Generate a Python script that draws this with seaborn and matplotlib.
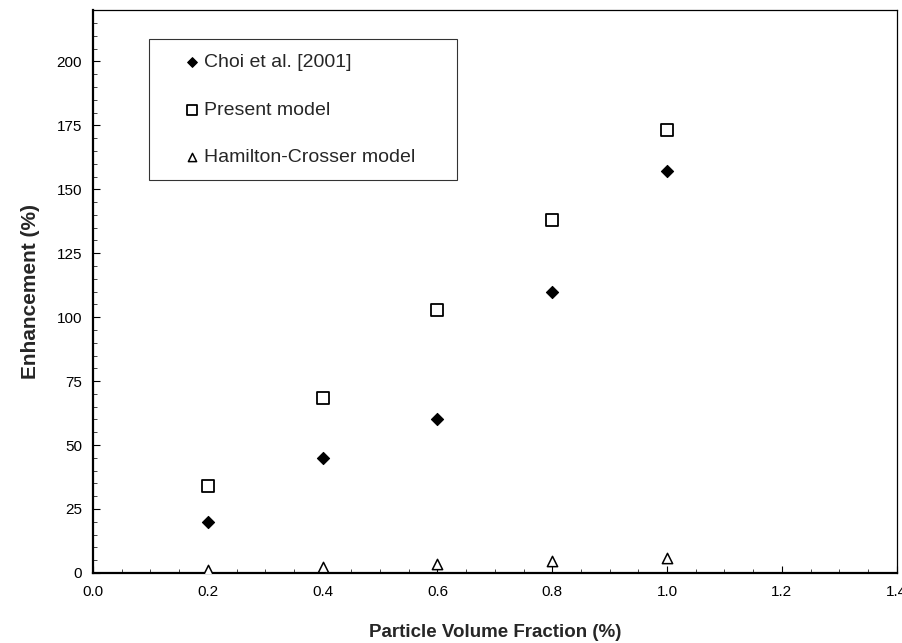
import matplotlib
matplotlib.use("Agg")
import matplotlib.pyplot as plt
import seaborn as sns
from matplotlib.ticker import MultipleLocator, FormatStrFormatter

# Data
volume_fraction = [0.2, 0.4, 0.6, 0.8, 1.0]
choi_2001 = [20, 45, 60, 110, 157]
present_model = [34, 68.5, 103, 138, 173]
hamilton_crosser = [1.2, 2.4, 3.6, 4.8, 6.0]

sns.set_style("white")
plt.rcParams['font.family'] = ['Liberation Sans', 'DejaVu Sans']

fig = plt.figure(figsize=(9.03, 6.43), dpi=100)
ax = fig.add_axes([0.103, 0.109, 0.890, 0.875])

sns.scatterplot(x=volume_fraction, y=choi_2001, marker='D', s=38, color='black',
                edgecolor='black', linewidth=0.8, label='Choi et al. [2001]', ax=ax, zorder=3)
sns.scatterplot(x=volume_fraction, y=present_model, marker='s', s=70, facecolor='white',
                edgecolor='black', linewidth=1.3, label='Present model', ax=ax, zorder=3)
sns.scatterplot(x=volume_fraction, y=hamilton_crosser, marker='^', s=55, facecolor='white',
                edgecolor='black', linewidth=1.1, label='Hamilton-Crosser model', ax=ax, zorder=3)

ax.set_xlim(0, 1.4)
ax.set_ylim(0, 220)
ax.xaxis.set_major_locator(MultipleLocator(0.2))
ax.xaxis.set_minor_locator(MultipleLocator(0.05))
ax.xaxis.set_major_formatter(FormatStrFormatter('%.1f'))
ax.yaxis.set_minor_locator(MultipleLocator(5))
ax.set_yticks([0, 25, 50, 75, 100, 125, 150, 175, 200])

ax.tick_params(axis='both', which='major', direction='in', length=5, width=0.8,
               labelsize=11, colors='black', bottom=True, left=True, top=False, right=False)
ax.tick_params(axis='both', which='minor', direction='in', length=3, width=0.6,
               bottom=True, left=True, top=False, right=False)
ax.tick_params(axis='x', which='major', pad=9)
ax.tick_params(axis='y', which='major', pad=8)

for side in ['left', 'bottom']:
    ax.spines[side].set_linewidth(1.6)
    ax.spines[side].set_color('black')
for side in ['top', 'right']:
    ax.spines[side].set_linewidth(0.9)
    ax.spines[side].set_color('black')

ax.set_xlabel('Particle Volume Fraction (%)', fontsize=13.5, fontweight='bold', labelpad=18)
ax.set_ylabel('Enhancement (%)', fontsize=15, fontweight='bold', labelpad=12)

leg = ax.legend(loc='upper left', bbox_to_anchor=(0.0697, 0.5, 0.383, 0.4485), mode='expand',
                fontsize=14, frameon=True, fancybox=False, edgecolor='black', borderpad=0.72,
                labelspacing=1.55, handletextpad=-0.84, handlelength=2.96,
                borderaxespad=0, markerscale=0.8)
leg.get_frame().set_linewidth(0.8)

fig.savefig('out.png', dpi=100)
